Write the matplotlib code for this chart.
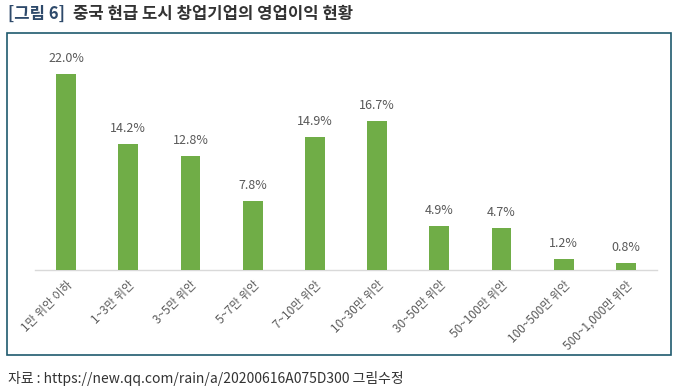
import matplotlib
matplotlib.use("Agg")
import matplotlib.pyplot as plt
from matplotlib.patches import Rectangle

plt.rcParams['font.family'] = ['Noto Sans CJK KR', 'DejaVu Sans']

categories = ['1만 위안 이하', '1~3만 위안', '3~5만 위안', '5~7만 위안', '7~10만 위안',
              '10~30만 위안', '30~50만 위안', '50~100만 위안', '100~500만 위안', '500~1,000만 위안']
values = [22.0, 14.2, 12.8, 7.8, 14.9, 16.7, 4.9, 4.7, 1.2, 0.8]
title_prefix = '[그림 6]'
title_rest = '중국 현급 도시 창업기업의 영업이익 현황'
source = '자료 : https://new.qq.com/rain/a/20200616A075D300 그림수정'

W, H = 679, 391
fig = plt.figure(figsize=(W / 100, H / 100), dpi=100)
fig.patch.set_facecolor('white')

# frame box
fig.patches.append(Rectangle((7 / W, 1 - 355 / H), (671 - 7) / W, (355 - 33) / H,
                             transform=fig.transFigure, fill=False,
                             edgecolor='#1f5a6e', linewidth=1.2))

ax = fig.add_axes([35 / W, 1 - 270 / H, (657 - 35) / W, 222.5 / H])
x = list(range(len(categories)))
ax.bar(x, values, width=0.32, color='#70AD47', zorder=3)
ax.set_xlim(-0.5, len(categories) - 0.5)
ax.set_ylim(0, 25)
for xi, v in zip(x, values):
    ax.annotate(f'{v:.1f}%', (xi, v), xytext=(0, 6.5), textcoords='offset points',
                ha='center', va='bottom', fontsize=9, color='#595959')
for s in ['top', 'right', 'left']:
    ax.spines[s].set_visible(False)
ax.spines['bottom'].set_color('#d9d9d9')
ax.spines['bottom'].set_linewidth(1)
ax.set_yticks([])
ax.set_xticks(x)
ax.set_xticklabels(categories, rotation=45, ha='right', rotation_mode='anchor',
                   fontsize=8.5, color='#595959')
ax.tick_params(axis='x', length=0, pad=6)

t1 = fig.text(8 / W, 1 - 14 / H, title_prefix, fontsize=12, fontweight='bold',
              color='#2e4a6b', va='center', ha='left')
fig.canvas.draw()
bb = t1.get_window_extent()
fig.text((bb.x1 + 8) / W, 1 - 14 / H, title_rest, fontsize=12, fontweight='bold',
         color='#333333', va='center', ha='left')

fig.text(8 / W, 1 - 378 / H, source, fontsize=10, color='#333333', va='center', ha='left')

fig.savefig('out.png', dpi=100, facecolor='white')
